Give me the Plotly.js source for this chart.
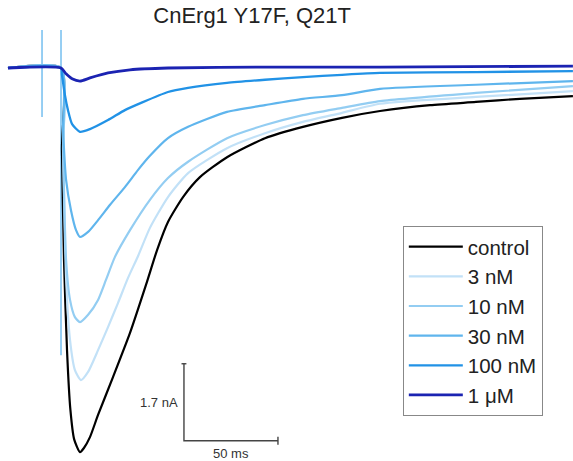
<!DOCTYPE html>
<html>
<head>
<meta charset="utf-8">
<script src="https://cdn.plot.ly/plotly-3.0.1.min.js"></script>
<style>html,body{margin:0;padding:0;background:#fff;}#chart{width:573px;height:461px;}</style>
</head>
<body>
<div id="chart"></div>
<script>
// Series names and colours
var seriesNames = ["control", "3 nM", "10 nM", "30 nM", "100 nM", "1 \u03bcM"];
var seriesColors = ["#000000", "#c2e1f7", "#93cdf2", "#5fb5ed", "#2192e6", "#1b23b2"];

// Time (ms, relative to pulse onset) and current (nA)
var tControl = [-28.2, 0, 0.5, 1.6, 3.2, 5.0, 7.0, 10.1, 12.2, 15.4, 19.7, 27.7, 36.7, 45.2, 51.1, 56.9, 64.9, 73.9, 88.3, 108.5, 128.7, 149.5, 169.7, 196.3, 220.7, 244.1, 272.3];
var iControl = [0, 0, -1.80, -4.25, -6.23, -7.55, -8.20, -8.48, -8.39, -8.15, -7.66, -6.82, -5.85, -4.79, -4.02, -3.40, -2.85, -2.41, -1.97, -1.55, -1.30, -1.10, -0.95, -0.82, -0.75, -0.68, -0.62];

var t3nM = [-28.2, 0, 1.1, 2.7, 4.8, 7.4, 10.6, 14.4, 19.7, 25.0, 30.3, 35.6, 41.0, 47.3, 56.9, 67.6, 88.3, 108.5, 128.7, 149.5, 169.7, 220.7, 272.3];
var i3nM = [0, 0, -1.81, -4.64, -6.01, -6.67, -6.89, -6.71, -6.23, -5.72, -5.19, -4.64, -4.15, -3.53, -2.85, -2.32, -1.77, -1.44, -1.19, -0.99, -0.79, -0.64, -0.51];

var t10nM = [-28.2, 0, 1.1, 2.7, 4.8, 7.4, 10.1, 14.4, 19.7, 23.9, 28.7, 36.7, 47.3, 56.9, 67.6, 88.3, 108.5, 128.7, 149.5, 169.7, 220.7, 272.3];
var i10nM = [0, 0, -1.81, -4.24, -5.12, -5.50, -5.61, -5.45, -5.12, -4.68, -4.17, -3.58, -2.91, -2.43, -2.07, -1.55, -1.26, -1.04, -0.88, -0.73, -0.55, -0.40];

var t30nM = [-28.2, 0, 1.1, 2.7, 5.3, 8.0, 10.1, 14.4, 19.7, 26.1, 34.0, 41.0, 47.3, 56.9, 67.6, 88.3, 108.5, 128.7, 149.5, 169.7, 220.7, 272.3];
var i30nM = [0, 0, -1.37, -2.47, -3.14, -3.58, -3.73, -3.62, -3.36, -3.02, -2.63, -2.25, -1.94, -1.55, -1.30, -0.97, -0.82, -0.68, -0.60, -0.46, -0.37, -0.29];

var t100nM = [-28.2, 0, 0.5, 2.1, 3.7, 5.9, 10.1, 15.4, 25.0, 34.0, 42.6, 56.9, 67.6, 88.3, 108.5, 128.7, 149.5, 169.7, 220.7, 272.3];
var i100nM = [0, 0, -0.15, -0.60, -0.93, -1.24, -1.41, -1.35, -1.15, -0.93, -0.77, -0.53, -0.44, -0.33, -0.26, -0.20, -0.15, -0.11, -0.09, -0.07];

var t1uM = [-28.2, 0, 2.7, 5.9, 10.1, 15.4, 25.0, 36.7, 56.9, 108.5, 169.7, 272.3];
var i1uM = [0, 0, -0.13, -0.24, -0.29, -0.22, -0.11, -0.04, 0, 0.02, 0.02, 0.04];

// Stimulus artefacts (ms, nA): two capacitive spikes
var tArtefact = [-10.1, -10.1, null, 0, 0];
var iArtefact = [0.84, -1.08, null, 0.84, -6.34];

// Scale bar values
var scaleTime = 50;      // ms
var scaleCurrent = 1.7;  // nA
var scaleLabels = ["50 ms", "1.7 nA"];
var titleText = "CnErg1 Y17F, Q21T";

var xs = [tControl, t3nM, t10nM, t30nM, t100nM, t1uM];
var ys = [iControl, i3nM, i10nM, i30nM, i100nM, i1uM];
var widths = [2.2, 2.2, 2.2, 2.2, 2.3, 2.8];

var traces = [{
  x: tArtefact, y: iArtefact, type: "scatter", mode: "lines", showlegend: false,
  hoverinfo: "skip", line: {color: seriesColors[3], width: 1.3}
}];
seriesNames.forEach(function (n, k) {
  traces.push({
    x: xs[k], y: ys[k], type: "scatter", mode: "lines", name: n,
    legendgroup: "g" + k,
    line: {color: seriesColors[k], width: widths[k], shape: "spline", smoothing: 0.6},
    hoverinfo: "skip"
  });
});

// scale bar (origin placement)
var sbX0 = 65.4, sbY0 = -6.53 - scaleCurrent;
var capT = 1.3;
traces.push({
  x: [sbX0 - capT, sbX0 + capT, null, sbX0, sbX0, sbX0 + scaleTime, null, sbX0 + scaleTime, sbX0 + scaleTime],
  y: [sbY0 + scaleCurrent, sbY0 + scaleCurrent, null, sbY0 + scaleCurrent, sbY0, sbY0, null, sbY0 + 0.09, sbY0 - 0.09],
  type: "scatter", mode: "lines", showlegend: false, hoverinfo: "skip",
  line: {color: "#444", width: 1.4}
});

var font = "Liberation Sans, Arial, sans-serif";
var layout = {
  width: 573, height: 461,
  margin: {l: 0, r: 0, t: 0, b: 0},
  paper_bgcolor: "#fff", plot_bgcolor: "#fff",
  xaxis: {range: [-32.45, 272.34], visible: false, showgrid: false, zeroline: false, fixedrange: true},
  yaxis: {range: [-8.677, 1.501], visible: false, showgrid: false, zeroline: false, fixedrange: true},
  title: {text: titleText, x: 0.44, xanchor: "center", y: 0.967, yanchor: "middle",
          font: {family: font, size: 22, color: "#222"}},
  showlegend: true,
  legend: {
    x: 0.703, xanchor: "left", y: 0.51, yanchor: "top",
    bgcolor: "#fff", bordercolor: "#888", borderwidth: 1,
    font: {family: font, size: 20.5, color: "#222"},
    traceorder: "grouped", tracegroupgap: 0, itemwidth: 54
  },
  annotations: [
    {x: sbX0, y: sbY0 + scaleCurrent / 2, xref: "x", yref: "y", text: scaleLabels[1],
     showarrow: false, xanchor: "right", yanchor: "middle", xshift: -4,
     font: {family: font, size: 13, color: "#333"}},
    {x: sbX0 + scaleTime / 2, y: sbY0, xref: "x", yref: "y", text: scaleLabels[0],
     showarrow: false, xanchor: "center", yanchor: "top", yshift: -3,
     font: {family: font, size: 13, color: "#333"}}
  ]
};

Plotly.newPlot("chart", traces, layout, {staticPlot: true, displayModeBar: false});
</script>
</body>
</html>
